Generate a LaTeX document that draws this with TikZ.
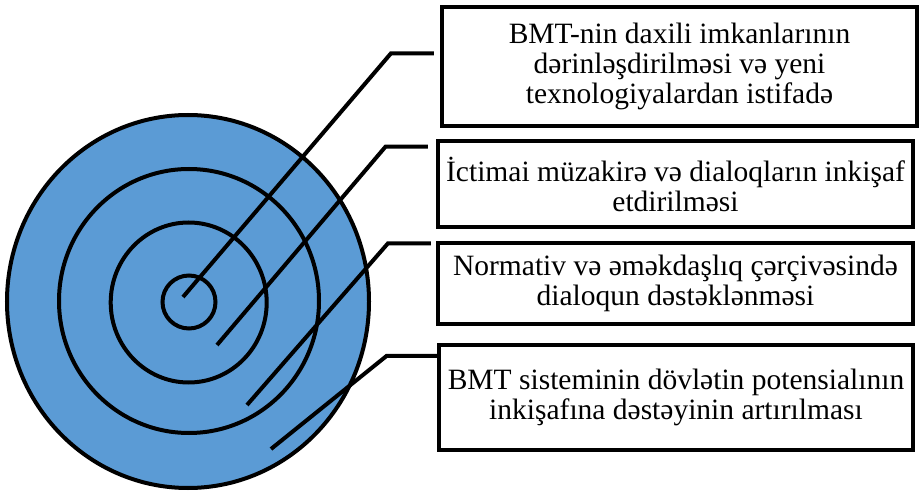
\documentclass[tikz,border=0pt]{standalone}
\usepackage{fontspec}
\setmainfont{Liberation Serif}
\definecolor{ringblue}{HTML}{5B9BD5}
\begin{document}
\begin{tikzpicture}[x=1pt,y=-1pt,
  ring/.style={draw=black,line width=4pt},
  conn/.style={draw=black,line width=4pt},
  box/.style={draw=black,line width=4.5pt,fill=white,rectangle,inner sep=0pt,
    align=center,font=\fontsize{29.5}{30}\selectfont}]
\useasboundingbox (0,0) rectangle (919,494);
% target rings
\draw[ring,fill=ringblue] (188,301.5) ellipse [x radius=181,y radius=186.5];
\draw[ring] (189,301) ellipse [x radius=130,y radius=132];
\draw[ring] (188.7,302.5) ellipse [x radius=78,y radius=80];
\draw[ring] (189,302) circle [radius=26.5];
% boxes
\node[box,minimum width=475pt,minimum height=119pt] (b1) at (679.5,66.5)
  {BMT-nin daxili imkanlarının\\dərinləşdirilməsi və yeni\\texnologiyalardan istifadə};
\node[box,minimum width=475pt,minimum height=86pt] (b2) at (675.5,184)
  {İctimai müzakirə və dialoqların inkişaf\\etdirilməsi};
\node[box,minimum width=475pt,minimum height=81pt] (b3) at (675.5,283.5)
  {Normativ və əməkdaşlıq çərçivəsində\\dialoqun dəstəklənməsi};
\node[box,minimum width=474pt,minimum height=105pt] (b4) at (676,397.5)
  {BMT sisteminin dövlətin potensialının\\inkişafına dəstəyinin artırılması};
% connector points
\coordinate (s1) at (183,297);
\coordinate (k1) at (391,53.3);
\coordinate (e1) at ([xshift=-6pt]b1.west |- k1);
\coordinate (s2) at (217,345);
\coordinate (k2) at (385.5,146.7);
\coordinate (e2) at ([xshift=-8pt]b2.west |- k2);
\coordinate (s3) at (247,405);
\coordinate (k3) at (388,243.3);
\coordinate (e3) at ([xshift=-5pt]b3.west |- k3);
\coordinate (s4) at (271,449);
\coordinate (k4) at (386.5,356);
\coordinate (e4) at ([xshift=4pt]b4.west |- k4);
\draw[conn] (s1) -- (k1) -- (e1);
\draw[conn] (s2) -- (k2) -- (e2);
\draw[conn] (s3) -- (k3) -- (e3);
\draw[conn] (s4) -- (k4) -- (e4);
\end{tikzpicture}
\end{document}
